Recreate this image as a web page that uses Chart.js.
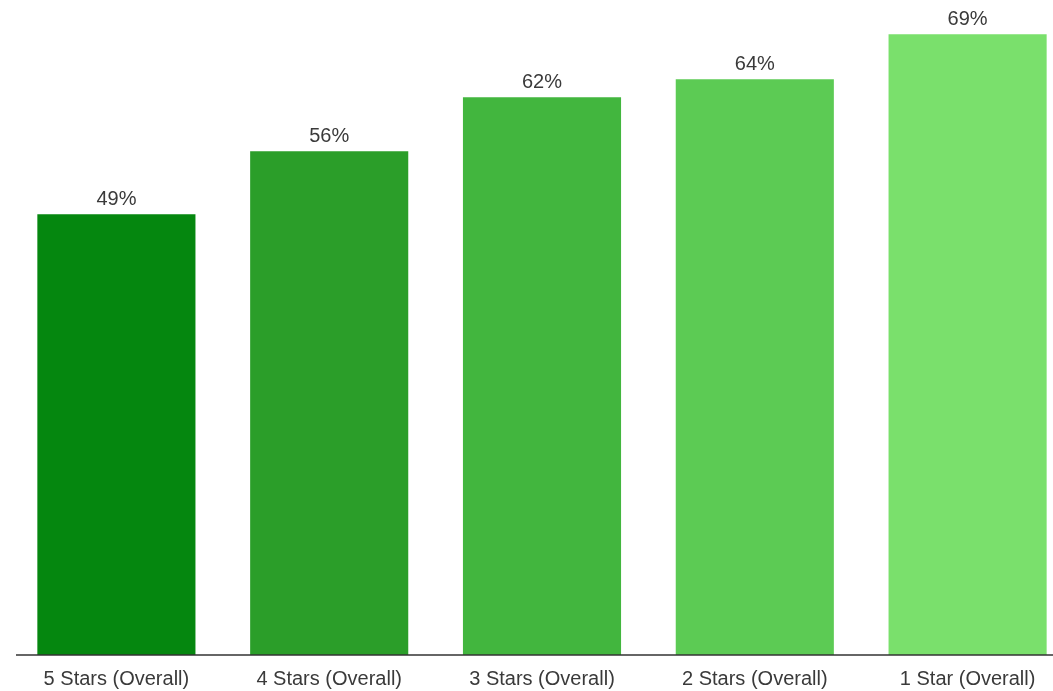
<!DOCTYPE html>
<html lang="en">

<head>
    <title>Ratings</title>
    <meta charset="utf-8">
    <script src="https://cdn.jsdelivr.net/npm/chart.js"></script>
    <style>
        html, body { margin: 0; padding: 0; background: #fff; overflow: hidden; }
        #wrap { width: 1074px; height: 691px; }
    </style>
</head>

<body>
    <div id="wrap">
        <canvas id="starsChart" width="1074" height="691"></canvas>
    </div>

    <script>
        const categories = ['5 Stars (Overall)', '4 Stars (Overall)', '3 Stars (Overall)', '2 Stars (Overall)', '1 Star (Overall)'];
        const percents = [49, 56, 62, 64, 69];
        const barColors = ['#05870f', '#2b9e29', '#42b63e', '#5ccb54', '#7ae06c'];

        const fontFamily = '"Liberation Sans", Arial, sans-serif';

        // value labels above each bar
        const valueLabels = {
            id: 'valueLabels',
            afterDatasetsDraw(chart) {
                const ctx = chart.ctx;
                const meta = chart.getDatasetMeta(0);
                ctx.save();
                ctx.font = '20px ' + fontFamily;
                ctx.fillStyle = '#3a3a3a';
                ctx.textAlign = 'center';
                ctx.textBaseline = 'middle';
                meta.data.forEach((bar, i) => {
                    ctx.fillText(percents[i] + '%', bar.x, bar.y - 15);
                });
                ctx.restore();
            }
        };

        // bottom axis line
        const axisLine = {
            id: 'axisLine',
            afterDatasetsDraw(chart) {
                const ctx = chart.ctx;
                const y = chart.chartArea.bottom;
                ctx.save();
                ctx.strokeStyle = '#333';
                ctx.lineWidth = 1.5;
                ctx.beginPath();
                ctx.moveTo(16, y);
                ctx.lineTo(1053, y);
                ctx.stroke();
                ctx.restore();
            }
        };

        new Chart(document.getElementById('starsChart'), {
            type: 'bar',
            data: {
                labels: categories,
                datasets: [{
                    data: percents,
                    backgroundColor: barColors,
                    borderWidth: 0,
                    barPercentage: 0.743,
                    categoryPercentage: 1
                }]
            },
            options: {
                responsive: false,
                animation: false,
                layout: { padding: { left: 10, right: 0, top: 0, bottom: -12 } },
                plugins: {
                    legend: { display: false },
                    tooltip: { enabled: false }
                },
                scales: {
                    x: {
                        grid: { display: false, drawTicks: false },
                        border: { display: false },
                        ticks: {
                            padding: 12,
                            color: '#3a3a3a',
                            font: { family: fontFamily, size: 20 },
                            maxRotation: 0
                        }
                    },
                    y: {
                        display: false,
                        min: 0,
                        max: 72.8
                    }
                }
            },
            plugins: [valueLabels, axisLine]
        });
    </script>
</body>

</html>
